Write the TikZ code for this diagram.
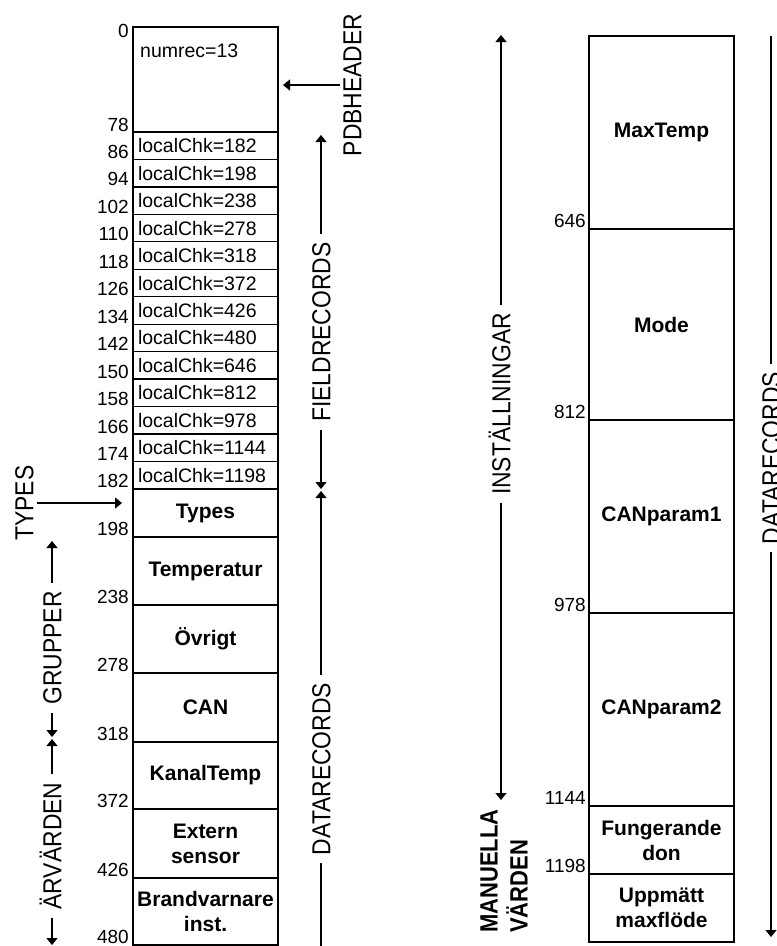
\documentclass[tikz,border=0pt]{standalone}
\usepackage{fontspec}
\setmainfont{Liberation Sans}
\newfontfamily\condfont[FakeStretch=0.88]{Liberation Sans}
\usetikzlibrary{arrows.meta,positioning,calc}
\definecolor{ink}{RGB}{0,0,0}
\tikzset{
  %% memory cell (bold centred name)
  cell/.style={rectangle,draw=ink,line width=1.3pt,outer sep=0pt,inner sep=0pt,
    minimum width=145pt,font=\fontsize{21}{25}\selectfont\bfseries,
    align=center,text=ink},
  %% field record row (left aligned)
  chk/.style={cell,minimum height=27.46pt,font=\fontsize{19.5}{22}\selectfont\mdseries,
    text width=135pt,align=left,inner xsep=5pt},
  %% byte offsets
  ofs/.style={font=\fontsize{19}{22}\selectfont,inner sep=0pt,anchor=base east,text=ink},
  %% rotated section labels
  sect/.style={font=\condfont\fontsize{26}{28}\selectfont,rotate=90,
    inner xsep=8pt,inner ysep=3pt,text height=18.6pt,text depth=0pt,text=ink},
  mlbl/.style={font=\condfont\bfseries\fontsize{25}{30}\selectfont,rotate=90,
    inner sep=0pt,align=left,text=ink},
  %% arrows
  arr/.style={-{Triangle[width=11pt,length=7pt]},line width=1.3pt,color=ink},
  ln/.style={line width=1.3pt,color=ink},
}
\begin{document}
\begin{tikzpicture}[x=1pt,y=-1pt]
  \useasboundingbox (0,0) rectangle (777,946);
  \clip (0,0) rectangle (777,946);

  %% left column: header + field records
  \node[cell,minimum height=105pt,anchor=north] (c0) at (205.5,27) {};
  \node[anchor=base west,inner sep=0pt,font=\fontsize{19.5}{22}\selectfont] (numrec)
    at ($(c0.north west)+(7,30)$) {numrec=13};
  \node[ofs] at ($(c0.north west)+(-4,10)$) {0};
  \node[ofs] at ($(c0.south west)+(-4,-1)$) {78};
  \foreach \v [count=\i] in {182,198,238,278,318,372,426,480,646,812,978,1144,1198} {
    \pgfmathtruncatemacro\j{\i-1}
    \pgfmathtruncatemacro\o{78+8*\i}
    \node[chk,below=0pt of c\j] (c\i) {localChk=\v};
    \node[ofs] at ($(c\i.south west)+(-4,-1)$) {\o};
  }

  %% left column: data records
  \node[cell,minimum height=48pt,below=0pt of c13]   (types) {Types};
  \node[cell,minimum height=68pt,below=0pt of types] (temp)  {Temperatur};
  \node[cell,minimum height=68pt,below=0pt of temp]  (ovr)   {Övrigt};
  \node[cell,minimum height=69pt,below=0pt of ovr]   (can)   {CAN};
  \node[cell,minimum height=67pt,below=0pt of can]   (kanal) {KanalTemp};
  \node[cell,minimum height=69pt,below=0pt of kanal] (ext)   {Extern\\sensor};
  \node[cell,minimum height=67pt,below=0pt of ext]   (brand) {Brandvarnare\\inst.};
  \foreach \n/\o in {types/198,temp/238,ovr/278,can/318,kanal/372,ext/426,brand/480}
    \node[ofs] at ($(\n.south west)+(-4,-1)$) {\o};

  %% right column
  \node[cell,minimum height=193pt,anchor=north] (mt) at (661.5,36) {MaxTemp};
  \node[cell,minimum height=191pt,below=0pt of mt]   (mode) {Mode};
  \node[cell,minimum height=193pt,below=0pt of mode] (cp1)  {CANparam1};
  \node[cell,minimum height=193pt,below=0pt of cp1]  (cp2)  {CANparam2};
  \node[cell,minimum height=68pt,below=0pt of cp2]   (fung) {Fungerande\\don};
  \node[cell,minimum height=68pt,below=0pt of fung]  (upp)  {Uppmätt\\maxflöde};
  \foreach \n/\o in {mt/646,mode/812,cp1/978,cp2/1144,fung/1198}
    \node[ofs] at ($(\n.south west)+(-3,-2)$) {\o};

  %% section labels, left picture
  \node[sect] (pdbh)     at (352,85)  {PDBHEADER};
  \node[sect] (fieldrec) at (321,332) {FIELDRECORDS};
  \node[sect] (datal)    at (321,769) {DATARECORDS};
  \node[sect] (typlbl)   at (24,503)  {TYPES};
  \node[sect] (grp)      at (52,648)  {GRUPPER};
  \node[sect] (arv)      at (52,846)  {ÄRVÄRDEN};
  \coordinate (frtop)  at (321,135);
  \coordinate (frjn)   at (321,490);
  \coordinate (dlbot)  at (321,946);
  \coordinate (grptop) at (52,541);
  \coordinate (grpjn)  at (52,738);
  \coordinate (arvbot) at (52,945);

  \draw[arr,shorten >=5pt] (pdbh.north) -- (pdbh.north -| c0.east);
  \draw[arr] (fieldrec.east) -- (frtop);
  \draw[arr,shorten >=1pt] (fieldrec.west) -- (frjn);
  \draw[arr,shorten >=1pt] (datal.east) -- (frjn);
  \draw[ln] (datal.west) -- (dlbot);
  \draw[arr,shorten >=11pt] (typlbl.south) -- (typlbl.south -| types.west);
  \draw[arr] (grp.east) -- (grptop);
  \draw[arr,shorten >=1pt] (grp.west) -- (grpjn);
  \draw[arr,shorten >=1pt] (arv.east) -- (grpjn);
  \draw[arr] (arv.west) -- (arvbot);

  %% section labels, right picture
  \node[sect] (inst)  at (501,404) {INSTÄLLNINGAR};
  \node[mlbl] (manv)  at (504,871) {MANUELLA\\VÄRDEN};
  \node[sect] (datar) at (771,458) {DATARECORDS};
  \coordinate (insttop) at (501,35);
  \coordinate (instbot) at (501,800);
  \coordinate (drtop)   at (771,36);
  \coordinate (drbot)   at (771,937);

  \draw[arr] (inst.east) -- (insttop);
  \draw[arr] (inst.west) -- (instbot);
  \draw[ln]  (datar.east) -- (drtop);
  \draw[arr] (datar.west) -- (drbot);
\end{tikzpicture}
\end{document}
